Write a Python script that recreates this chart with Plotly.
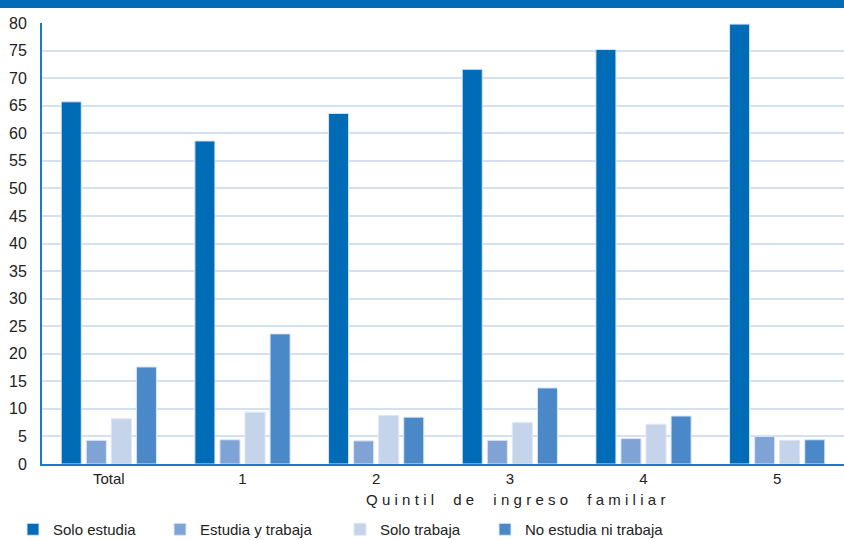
import plotly.graph_objects as go

categories = ["Total", "1", "2", "3", "4", "5"]
solo_estudia = [65.7, 58.6, 63.6, 71.6, 75.2, 79.8]
estudia_y_trabaja = [4.3, 4.4, 4.2, 4.3, 4.6, 5.0]
solo_trabaja = [8.2, 9.4, 8.8, 7.5, 7.2, 4.3]
no_estudia_ni_trabaja = [17.6, 23.6, 8.5, 13.8, 8.7, 4.4]

series = [
    ("Solo estudia", solo_estudia, "#006bb6"),
    ("Estudia y trabaja", estudia_y_trabaja, "#7fa3d5"),
    ("Solo trabaja", solo_trabaja, "#c6d4eb"),
    ("No estudia ni trabaja", no_estudia_ni_trabaja, "#4a88c8"),
]
y_ticks = list(range(0, 81, 5))
x_title = "Quintil de ingreso familiar"
legend_left_px = [13, 160, 340, 485]

W, H = 844, 540
font_family = "Liberation Sans, Arial, Helvetica, sans-serif"
fig = go.Figure()
legend_layout = {}
for i, (name, vals, col) in enumerate(series):
    key = "legend" if i == 0 else f"legend{i + 1}"
    fig.add_trace(go.Bar(
        x=categories, y=vals, name=name, legend=key,
        marker=dict(color=col, line=dict(color="#dce6f4", width=1)),
    ))
    legend_layout[key] = dict(
        orientation="h", xref="container", yref="container",
        x=legend_left_px[i] / W, xanchor="left", y=(H - 513) / H, yanchor="top",
        font=dict(size=15, color="#222"), bgcolor="rgba(0,0,0,0)", itemwidth=30,
    )

def spaced(s):
    words = s.split(" ")
    return "\u2009\u2009\u2009 \u2009\u2009".join("\u2009\u200a".join(w) for w in words)

fig.update_layout(
    width=W, height=H,
    margin=dict(l=42, r=0, t=23, b=76),
    paper_bgcolor="white", plot_bgcolor="white",
    barmode="group", bargap=0.25, bargroupgap=0.2,
    font=dict(family=font_family, size=16, color="#222"),
    showlegend=True,
    shapes=[dict(type="rect", xref="paper", yref="paper",
                 x0=-0.06, x1=1.0, y0=1 + 15 / 441, y1=1 + 24 / 441,
                 fillcolor="#006bb6", line=dict(width=0), layer="above")],
    annotations=[dict(text=spaced(x_title), xref="paper", yref="paper",
                      x=(515 - 42) / 802, y=-35 / 441, xanchor="center", yanchor="middle",
                      showarrow=False, font=dict(size=15, color="#222"))],
    **legend_layout,
)
fig.update_xaxes(
    showline=True, linecolor="#1a7ac9", linewidth=2, automargin=False,
    showgrid=False, ticks="", tickfont=dict(size=15),
)
fig.update_yaxes(
    range=[0, 80], tickvals=y_ticks, automargin=False,
    showline=True, linecolor="#1a7ac9", linewidth=2,
    showgrid=True, gridcolor="#d5e0f1", gridwidth=1.5,
    zeroline=False, ticks="", ticklabelstandoff=10, tickfont=dict(size=16),
)
fig.write_html("out.html")
